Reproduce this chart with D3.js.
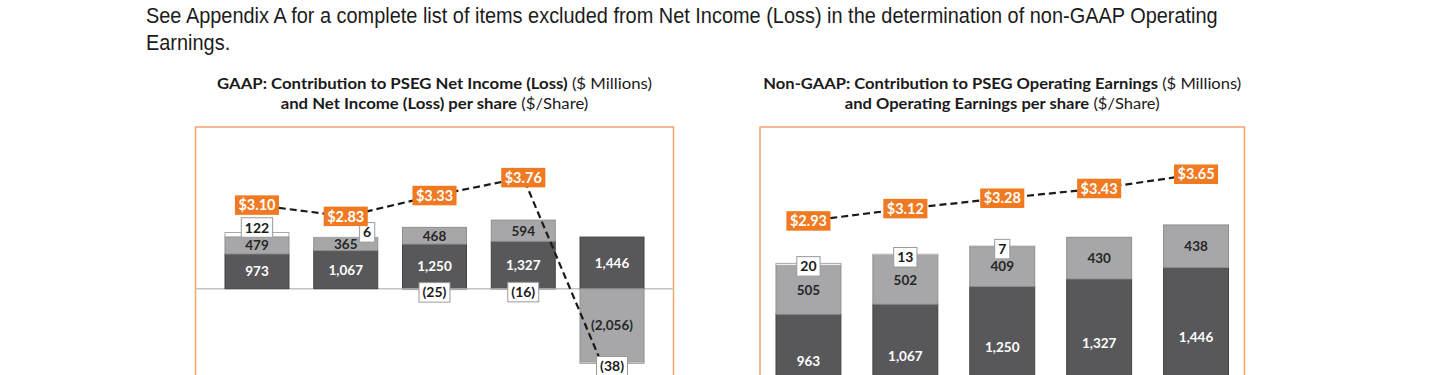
<!DOCTYPE html>
<html>
<head>
<meta charset="utf-8">
<script src="https://cdn.jsdelivr.net/npm/d3@7"></script>
<style>
  html, body { margin: 0; padding: 0; background: #fff; }
  svg { display: block; }
</style>
</head>
<body>
<svg id="vis" width="1440" height="375"></svg>
<script>
// ---- data ----
const years = ['2017', '2018', '2019', '2020', '2021'];

const gaapPseg = [973, 1067, 1250, 1327, 1446];
const gaapPower = [479, 365, 468, 594, -2056];
const gaapOther = [122, 6, -25, -16, -38];
const gaapEps = [3.10, 2.83, 3.33, 3.76, -1.29];

const opPseg = [963, 1067, 1250, 1327, 1446];
const opPower = [505, 502, 409, 430, 438];
const opOther = [20, 13, 7, 0, 0];
const opEps = [2.93, 3.12, 3.28, 3.43, 3.65];

const noteLines = [
  'See Appendix A for a complete list of items excluded from Net Income (Loss) in the determination of non-GAAP Operating',
  'Earnings.'
];
const gaapTitle = [
  [['GAAP: Contribution to PSEG Net Income (Loss)', true], [' ($ Millions)', false]],
  [['and Net Income (Loss) per share', true], [' ($/Share)', false]]
];
const opTitle = [
  [['Non-GAAP: Contribution to PSEG Operating Earnings', true], [' ($ Millions)', false]],
  [['and Operating Earnings per share', true], [' ($/Share)', false]]
];

// ---- styles ----
const DARK = '#58585a';
const LIGHT = '#a7a7a9';
const ORANGE = '#f07a22';
const BOX = '#f0a474';
const FONT = 'Lato, "Open Sans", sans-serif';

const fmt = v => (v < 0 ? `(${d3.format(',')(-v)})` : d3.format(',')(v));
const fmtEps = v => (v < 0 ? `($${d3.format('.2f')(-v)})` : `$${d3.format('.2f')(v)}`);

const $svg = d3.select('#vis');

// intro note, squeezed to the width of the original line
const $note = $svg.append('g').attr('transform', 'translate(146,0)');
const $noteText = $note.append('g');
$noteText.selectAll('text')
  .data(noteLines)
  .join('text')
  .attr('y', (d, i) => 23.5 + i * 26.5)
  .attr('fill', '#1c1c1c')
  .style('font-family', '"Liberation Sans", Arial, sans-serif')
  .style('font-size', '22px')
  .text(d => d);
const noteW = $noteText.select('text').node().getComputedTextLength();
$noteText.attr('transform', `scale(${1072 / noteW},1)`);

function drawChart(opts) {
  const { box, xRange, pad, barY, epsY, title, titleW, otherOffset } = opts;
  const $g = $svg.append('g');

  // title
  const cx = box[0] + box[2] / 2;
  const $title = $g.append('g').attr('transform', `translate(${cx},0)`);
  const $tt = $title.append('g');
  title.forEach((line, i) => {
    const $t = $tt.append('text')
      .attr('y', 89.5 + i * 19.5)
      .attr('text-anchor', 'middle')
      .attr('fill', '#1a1a1a')
      .style('font-family', FONT)
      .style('font-size', '14.6px');
    line.forEach(([t, b]) => {
      $t.append('tspan').style('font-weight', b ? 700 : 400).text(t);
    });
  });
  const tw = $tt.select('text').node().getComputedTextLength();
  $tt.attr('transform', `scale(${titleW / tw},1)`);

  // frame
  $g.append('rect')
    .attr('x', box[0]).attr('y', box[1])
    .attr('width', box[2]).attr('height', box[3])
    .attr('fill', 'none')
    .attr('stroke', BOX)
    .attr('stroke-width', 1.5);

  // scales
  const x = d3.scaleBand().domain(years).range(xRange).paddingInner(pad).paddingOuter(pad / 2);
  const y = d3.scaleLinear().domain([0, 1000]).range(barY);
  const ye = d3.scaleLinear().domain(opts.epsDomain).range(epsY);

  // zero line
  $g.append('line')
    .attr('x1', box[0]).attr('x2', box[0] + box[2])
    .attr('y1', y(0)).attr('y2', y(0))
    .attr('stroke', '#c4c4c4')
    .attr('stroke-width', 1.5);

  const rows = years.map((yr, i) => ({
    year: yr, pseg: opts.pseg[i], power: opts.power[i], other: opts.other[i]
  }));
  const series = d3.stack()
    .keys(['pseg', 'power', 'other'])
    .offset(d3.stackOffsetDiverging)(rows);

  const fills = { pseg: DARK, power: LIGHT, other: '#fff' };
  const strokes = { pseg: '#444446', power: '#8e8e90', other: '#a8a8a8' };

  const $bars = $g.append('g');
  series.forEach(s => {
    $bars.append('g')
      .selectAll('rect')
      .data(s.filter(d => d[1] !== d[0]))
      .join('rect')
      .attr('x', d => x(d.data.year))
      .attr('width', x.bandwidth())
      .attr('y', d => Math.min(y(d[0]), y(d[1])))
      .attr('height', d => Math.abs(y(d[0]) - y(d[1])))
      .attr('fill', fills[s.key])
      .attr('stroke', strokes[s.key])
      .attr('stroke-width', 1);
  });

  // in-bar labels
  series.filter(s => s.key !== 'other').forEach(s => {
    $g.append('g')
      .selectAll('text')
      .data(s)
      .join('text')
      .attr('x', d => x(d.data.year) + x.bandwidth() / 2)
      .attr('y', d => (y(d[0]) + y(d[1])) / 2)
      .attr('dy', '0.36em')
      .attr('text-anchor', 'middle')
      .attr('fill', s.key === 'pseg' ? '#fff' : '#262626')
      .style('font-family', FONT)
      .style('font-weight', 700)
      .style('font-size', '13.5px')
      .text(d => fmt(d.data[s.key]));
  });

  // EPS line
  const line = d3.line()
    .x((d, i) => x(years[i]) + x.bandwidth() / 2)
    .y(d => ye(d));
  $g.append('path')
    .datum(opts.eps)
    .attr('d', line)
    .attr('fill', 'none')
    .attr('stroke', '#1a1a1a')
    .attr('stroke-width', 2.2)
    .attr('stroke-dasharray', '7,4');

  // EPS labels
  const epsBoxes = [];
  const $eps = $g.append('g');
  opts.eps.forEach((v, i) => {
    const px = x(years[i]) + x.bandwidth() / 2;
    const py = ye(v);
    const $l = $eps.append('g').attr('transform', `translate(${px},${py})`);
    const $rect = $l.append('rect').attr('fill', ORANGE);
    const $t = $l.append('text')
      .attr('text-anchor', 'middle')
      .attr('dy', '0.36em')
      .attr('fill', '#fff')
      .style('font-family', FONT)
      .style('font-weight', 700)
      .style('font-size', '14.5px')
      .text(fmtEps(v));
    const w = $t.node().getComputedTextLength() + 7;
    const h = 19.5;
    $rect.attr('x', -w / 2).attr('y', -h / 2).attr('width', w).attr('height', h);
    epsBoxes.push({ x0: px - w / 2, x1: px + w / 2, y0: py - h / 2, y1: py + h / 2 });
  });

  // "other" labels in white boxes
  const otherSeries = series.find(s => s.key === 'other');
  const $oth = $g.append('g');
  otherSeries.forEach((d, i) => {
    const v = d.data.other;
    if (!v) return;
    const left = x(d.data.year);
    let px = left + x.bandwidth() / 2;
    const py = v > 0 ? y(d[1]) - otherOffset[0] : y(d[0]) + otherOffset[1];
    const $l = $oth.append('g');
    const $rect = $l.append('rect')
      .attr('fill', '#fff')
      .attr('stroke', '#9a9a9a')
      .attr('stroke-width', 1);
    const $t = $l.append('text')
      .attr('text-anchor', 'middle')
      .attr('dy', '0.36em')
      .attr('fill', '#1a1a1a')
      .style('font-family', FONT)
      .style('font-weight', 700)
      .style('font-size', '14px')
      .text(fmt(v));
    const w = $t.node().getComputedTextLength() + 7;
    const h = 19.5;
    const eb = epsBoxes[i];
    const hit = px - w / 2 < eb.x1 && px + w / 2 > eb.x0 && py - h / 2 < eb.y1 && py + h / 2 > eb.y0;
    if (hit) px = left + x.bandwidth() - 3 - w / 2;
    $l.attr('transform', `translate(${px},${py})`);
    $rect.attr('x', -w / 2).attr('y', -h / 2).attr('width', w).attr('height', h);
  });
  // keep EPS labels above everything
  $eps.raise();
}

drawChart({
  box: [195.5, 127, 478, 300],
  xRange: [212.6, 656.4],
  pad: 0.279,
  barY: [288.7, 253.0],
  epsDomain: [0, 4],
  epsY: [334.3, 167.6],
  title: gaapTitle,
  titleW: 435,
  otherOffset: [5, 2.8],
  pseg: gaapPseg,
  power: gaapPower,
  other: gaapOther,
  eps: gaapEps
});

drawChart({
  box: [760, 127, 484.5, 300],
  xRange: [760, 1244.5],
  pad: 0.33,
  barY: [407.7, 310.7],
  epsDomain: [2, 4],
  epsY: [281.3, 151.5],
  title: opTitle,
  titleW: 478,
  otherOffset: [-3, -3],
  pseg: opPseg,
  power: opPower,
  other: opOther,
  eps: opEps
});
</script>
</body>
</html>
